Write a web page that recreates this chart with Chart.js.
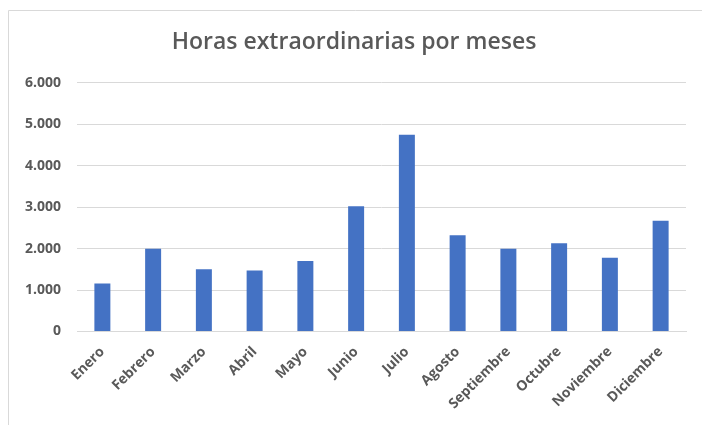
<!DOCTYPE html>
<html>
<head>
<meta charset="utf-8">
<script src="https://cdn.jsdelivr.net/npm/chart.js@4/dist/chart.umd.min.js"></script>
<style>
  html, body { margin: 0; padding: 0; background: #fff; }
  #wrap { width: 702px; height: 425px; position: relative; }
</style>
</head>
<body>
<div id="wrap"><canvas id="horasChart"></canvas></div>
<script>
// datos
const meses = ['Enero', 'Febrero', 'Marzo', 'Abril', 'Mayo', 'Junio', 'Julio',
  'Agosto', 'Septiembre', 'Octubre', 'Noviembre', 'Diciembre'];
const horas = [1160, 2000, 1500, 1470, 1700, 3020, 4750, 2320, 2000, 2130, 1780, 2670];
const yTickLabels = ['0', '1.000', '2.000', '3.000', '4.000', '5.000', '6.000'];

const gris = '#595959';
const lineaGris = '#d9d9d9';

// marco del grafico (borde de Excel)
const marco = {
  id: 'marco',
  beforeDraw(chart) {
    const c = chart.ctx;
    c.save();
    c.strokeStyle = lineaGris;
    c.lineWidth = 1;
    c.beginPath();
    c.moveTo(8.5, 425);
    c.lineTo(8.5, 10.5);
    c.lineTo(702, 10.5);
    c.stroke();
    c.restore();
  }
};

const ctx = document.getElementById('horasChart').getContext('2d');
new Chart(ctx, {
  type: 'bar',
  data: {
    labels: meses,
    datasets: [{
      label: 'Horas extraordinarias',
      data: horas,
      backgroundColor: '#4472C4',
      borderWidth: 0,
      barPercentage: 0.315,
      categoryPercentage: 1
    }]
  },
  options: {
    responsive: true,
    maintainAspectRatio: false,
    animation: false,
    layout: { padding: { left: 22, right: 16, top: 0, bottom: 0 } },
    plugins: {
      legend: { display: false },
      tooltip: { enabled: false },
      title: {
        display: true,
        text: 'Horas extraordinarias por meses',
        color: gris,
        font: { family: 'Open Sans', size: 23, weight: '600', lineHeight: 1.2 },
        padding: { top: 28.5, bottom: 26.8 }
      }
    },
    scales: {
      x: {
        grid: { display: false, drawTicks: false },
        border: { display: true, color: lineaGris, width: 1 },
        ticks: {
          color: gris,
          font: { family: 'Open Sans', size: 14, weight: 'bold' },
          minRotation: 45,
          maxRotation: 45,
          padding: 12,
          autoSkip: false
        },
        afterFit(scale) { scale.height = 93.5; }
      },
      y: {
        min: 0,
        max: 6000,
        grid: { color: lineaGris, lineWidth: 1, drawTicks: false },
        border: { display: false },
        ticks: {
          stepSize: 1000,
          color: gris,
          font: { family: 'Open Sans', size: 14, weight: 'bold' },
          padding: 16,
          callback: (value, index) => yTickLabels[index]
        },
        afterFit(scale) { scale.width = 55; }
      }
    }
  },
  plugins: [marco]
});
</script>
</body>
</html>
